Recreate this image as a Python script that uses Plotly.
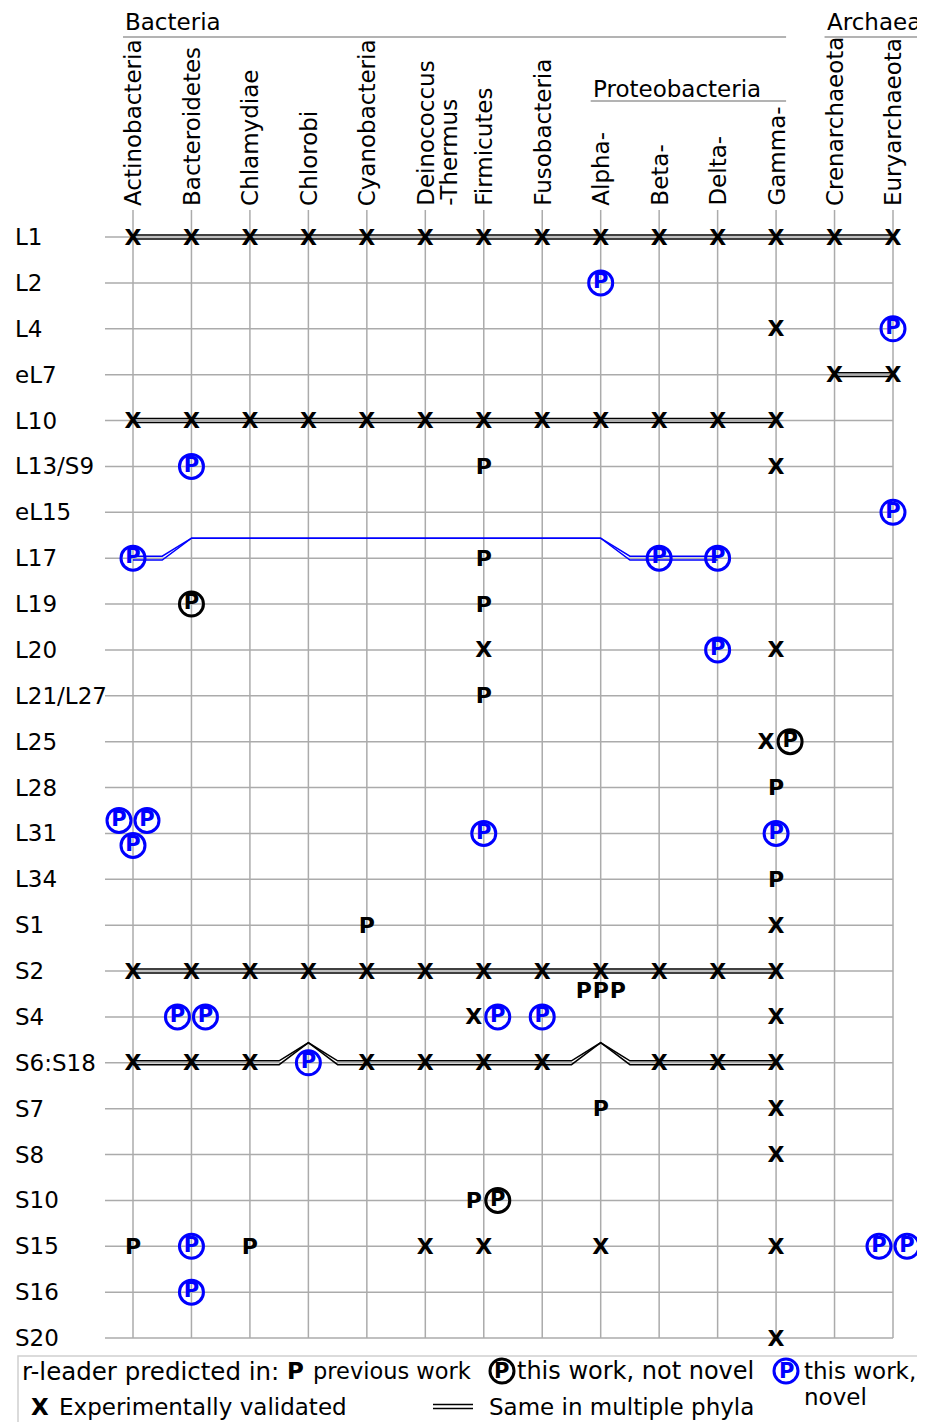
import plotly.graph_objects as go

# ---------------- data ----------------
col_codes = ["Act", "Bac", "Chla", "Chlo", "Cya", "Dei", "Fir", "Fus",
             "Alp", "Bet", "Del", "Gam", "Cre", "Eur"]
col_labels = ["Actinobacteria", "Bacteroidetes", "Chlamydiae", "Chlorobi",
              "Cyanobacteria", "Deinococcus|-Thermus", "Firmicutes", "Fusobacteria",
              "Alpha-", "Beta-", "Delta-", "Gamma-", "Crenarchaeota", "Euryarchaeota"]
row_labels = ["L1", "L2", "L4", "eL7", "L10", "L13/S9", "eL15", "L17", "L19", "L20",
              "L21/L27", "L25", "L28", "L31", "L34", "S1", "S2", "S4", "S6:S18",
              "S7", "S8", "S10", "S15", "S16", "S20"]

# X : experimentally validated
validated = {
    "L1": ["Act", "Bac", "Chla", "Chlo", "Cya", "Dei", "Fir", "Fus", "Alp", "Bet", "Del", "Gam", "Cre", "Eur"],
    "L4": ["Gam"],
    "eL7": ["Cre", "Eur"],
    "L10": ["Act", "Bac", "Chla", "Chlo", "Cya", "Dei", "Fir", "Fus", "Alp", "Bet", "Del", "Gam"],
    "L13/S9": ["Gam"],
    "L20": ["Fir", "Gam"],
    "L25": ["Gam"],
    "S1": ["Gam"],
    "S2": ["Act", "Bac", "Chla", "Chlo", "Cya", "Dei", "Fir", "Fus", "Alp", "Bet", "Del", "Gam"],
    "S4": ["Fir", "Gam"],
    "S6:S18": ["Act", "Bac", "Chla", "Cya", "Dei", "Fir", "Fus", "Bet", "Del", "Gam"],
    "S7": ["Gam"],
    "S8": ["Gam"],
    "S15": ["Dei", "Fir", "Alp", "Gam"],
    "S20": ["Gam"],
}
# P : predicted in previous work
previous = {
    "L13/S9": ["Fir"], "L17": ["Fir"], "L19": ["Fir"], "L21/L27": ["Fir"],
    "L28": ["Gam"], "L34": ["Gam"], "S1": ["Cya"], "S2": ["Alp", "Alp", "Alp"],
    "S7": ["Alp"], "S10": ["Fir"], "S15": ["Act", "Chla"],
}
# circled P (black): this work, not novel
not_novel = {"L19": ["Bac"], "L25": ["Gam"], "S10": ["Fir"]}
# circled P (blue): this work, novel
novel = {
    "L2": ["Alp"], "L4": ["Eur"], "L13/S9": ["Bac"], "eL15": ["Eur"],
    "L17": ["Act", "Bet", "Del"], "L20": ["Del"],
    "L31": ["Act", "Act", "Act", "Fir", "Gam"],
    "S4": ["Bac", "Bac", "Fir", "Fus"], "S6:S18": ["Chlo"],
    "S15": ["Bac", "Eur", "Eur"], "S16": ["Bac"],
}
# Same in multiple phyla: (row, from, to, bridged spans, colour)
same_lines = [
    ("L1", "Act", "Eur", [], "black"),
    ("eL7", "Cre", "Eur", [], "black"),
    ("L10", "Act", "Gam", [], "black"),
    ("L17", "Act", "Del", [("Bac", "Alp")], "blue"),
    ("S2", "Act", "Gam", [], "black"),
    ("S6:S18", "Act", "Gam", [("Chlo", "Chlo"), ("Alp", "Alp")], "black"),
]

groups = [("Bacteria", "Act", "Gam", 0), ("Archaea", "Cre", "Eur", 0), ("Proteobacteria", "Alp", "Gam", 1)]

# ---------------- geometry ----------------
W, H = 925, 1422          # page (reference) size
M = 8                     # default body margin of the html page
FW, FH = W - M, H - M     # figure size
X0, X1 = 133, 893
Y0, Y1 = 237, 1338
DX = (X1 - X0) / (len(col_codes) - 1)
DY = (Y1 - Y0) / (len(row_labels) - 1)
FONT = "DejaVu Sans"
FS = 23
BLUE = "#0000ff"
GRID = "#ababab"
TEXT_DY = 2  # px nudge so bold glyphs sit centred on the row line

ci = {c: i for i, c in enumerate(col_codes)}
ri = {r: i for i, r in enumerate(row_labels)}


def px(x):
    return (x - M) / FW


def py(y):
    return 1 - (y - M) / FH


fig = go.Figure()
shapes = []
annotations = []

# grid
for r in range(len(row_labels)):
    shapes.append(dict(type="line", xref="x", yref="y", x0=(105 - X0) / DX, x1=len(col_codes) - 1,
                       y0=r, y1=r, line=dict(color=GRID, width=1.5), layer="below"))
for c in range(len(col_codes)):
    shapes.append(dict(type="line", xref="x", yref="y", x0=c, x1=c, y0=(210 - Y0) / DY,
                       y1=len(row_labels) - 1, line=dict(color=GRID, width=1.5), layer="below"))

# multi-phyla double lines
RAISE = 20 / DY
OFF = 1.9 / DY
for row, a, b, bridges, color in same_lines:
    r = ri[row]
    pts = [(ci[a], r, 1)]
    for ba, bb in bridges:
        pts.append((ci[ba] - 0.5, r, 1))
        pts.append((ci[ba], r - RAISE, 0))
        pts.append((ci[bb], r - RAISE, 0))
        pts.append((ci[bb] + 0.5, r, 1))
    pts.append((ci[b], r, 1))
    for s in (-1, 1):
        fig.add_trace(go.Scatter(x=[p[0] for p in pts], y=[p[1] + s * OFF * p[2] for p in pts],
                                 mode="lines", line=dict(color=color, width=1.5),
                                 hoverinfo="skip", showlegend=False))

# marks, grouped per cell
cells = {}
for kind, table in (("X", validated), ("P", previous), ("K", not_novel), ("B", novel)):
    for row, cols in table.items():
        for c in cols:
            cells.setdefault((row, c), []).append(kind)


def dodge(kinds):
    n = len(kinds)
    circ = [k in "KB" for k in kinds]
    if n == 1:
        return [(0, 0)]
    if n == 2:
        if all(circ):
            return [(-14, 0), (14, 0)]
        return [(-10, 0), (14, 0)]
    if n == 3 and all(circ):
        return [(-14, -13), (14, -13), (0, 12)]
    if kinds[0] == "X":
        rest = n - 1
        return [(0, 0)] + [(-17 + 34 * i / max(rest - 1, 1), 19) for i in range(rest)]
    return [(0, 0)] * n


pos = {k: ([], []) for k in "XPKB"}
for (row, c), kinds in cells.items():
    for k, (dx, dy) in zip(kinds, dodge(kinds)):
        if k in "XP":
            dy += TEXT_DY
        pos[k][0].append(ci[c] + dx / DX)
        pos[k][1].append(ri[row] + dy / DY)

for k, txt in (("X", "<b>X</b>"), ("P", "<b>P</b>")):
    fig.add_trace(go.Scatter(x=pos[k][0], y=pos[k][1], mode="text", text=[txt] * len(pos[k][0]),
                             textposition="middle center",
                             textfont=dict(family=FONT, size=22, color="black"),
                             hoverinfo="skip", showlegend=False))
for k, color in (("K", "black"), ("B", BLUE)):
    fig.add_trace(go.Scatter(x=pos[k][0], y=pos[k][1], mode="markers+text",
                             text=["<b>P</b>"] * len(pos[k][0]), textposition="middle center",
                             textfont=dict(family=FONT, size=21, color=color),
                             marker=dict(symbol="circle-open", size=24, color=color,
                                         line=dict(width=3, color=color)),
                             hoverinfo="skip", showlegend=False))

# row labels
for i, r in enumerate(row_labels):
    annotations.append(dict(xref="paper", yref="y", x=px(13), y=i, text=r, showarrow=False,
                            xanchor="left", yanchor="middle", font=dict(family=FONT, size=FS, color="black")))

# column labels (rotated)
for i, lab in enumerate(col_labels):
    parts = lab.split("|")
    for j, part in enumerate(parts):
        xx = i if len(parts) == 1 else i + (j * 23) / DX
        annotations.append(dict(xref="x", yref="paper", x=xx, y=py(208), text=part, textangle=-90,
                                showarrow=False, xanchor="center", yanchor="bottom",
                                font=dict(family=FONT, size=FS, color="black")))

# group headers
for name, a, b, level in groups:
    ytxt, yline = (22, 37) if level == 0 else (89, 101)
    left = ci[a] - 10 / DX
    right = ci[b] + (25 / DX if name == "Archaea" else 10 / DX)
    shapes.append(dict(type="line", xref="x", yref="paper", x0=left, x1=right, y0=py(yline), y1=py(yline),
                       line=dict(color="#9a9a9a", width=1.5)))
    annotations.append(dict(xref="x", yref="paper", x=left, y=py(ytxt), text=name, showarrow=False,
                            xanchor="left", yanchor="middle", font=dict(family=FONT, size=FS, color="black")))

# legend box
shapes.append(dict(type="rect", xref="paper", yref="paper", x0=px(18), x1=px(922), y0=py(1356), y1=py(1440),
                   line=dict(color="#cfcfcf", width=1.5), fillcolor="rgba(0,0,0,0)"))


def ltext(x, y, t, anchor="left", size=FS, color="black"):
    annotations.append(dict(xref="paper", yref="paper", x=px(x), y=py(y), text=t, showarrow=False,
                            xanchor=anchor, yanchor="middle", font=dict(family=FONT, size=size, color=color)))


def lcircle(x, y, color):
    shapes.append(dict(type="circle", xref="paper", yref="paper", x0=px(x - 12), x1=px(x + 12),
                       y0=py(y - 12), y1=py(y + 12), line=dict(color=color, width=3)))
    ltext(x, y, "<b>P</b>", "center", 21, color)


ltext(20, 1371, "r-leader predicted in:", size=24.5)
ltext(295, 1371, "<b>P</b>", "center")
ltext(311, 1371, "previous work", size=22.5)
lcircle(502, 1371, "black")
ltext(515, 1371, "this work, not novel", size=24)
lcircle(786, 1371, BLUE)
ltext(802, 1371, "this work,")
ltext(802, 1397, "novel")
ltext(40, 1407, "<b>X</b>", "center")
ltext(57, 1407, "Experimentally validated")
for yy in (1404.5, 1408.5):
    shapes.append(dict(type="line", xref="paper", yref="paper", x0=px(433), x1=px(473), y0=py(yy), y1=py(yy),
                       line=dict(color="black", width=1.4)))
ltext(487, 1407, "Same in multiple phyla")

fig.update_layout(
    width=FW, height=FH, autosize=False,
    margin=dict(l=0, r=0, t=0, b=0),
    paper_bgcolor="white", plot_bgcolor="white",
    xaxis=dict(range=[(M - X0) / DX, (W - X0) / DX], visible=False, fixedrange=True),
    yaxis=dict(range=[(H - Y0) / DY, (M - Y0) / DY], visible=False, fixedrange=True),
    shapes=shapes, annotations=annotations, showlegend=False,
)
fig.write_html("out.html")
